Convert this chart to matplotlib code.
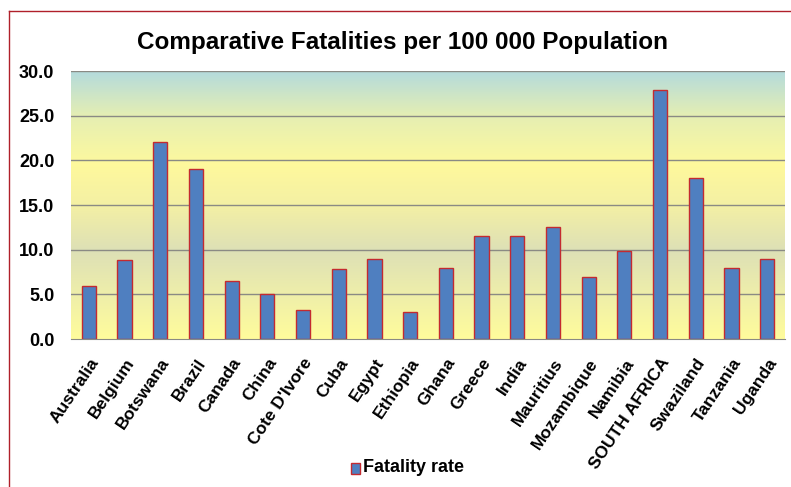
import matplotlib
matplotlib.use("Agg")
import matplotlib.pyplot as plt
import numpy as np
from matplotlib.colors import LinearSegmentedColormap
from matplotlib.lines import Line2D
from matplotlib.patches import Rectangle

countries = ["Australia", "Belgium", "Botswana", "Brazil", "Canada", "China",
             "Cote D'Ivore", "Cuba", "Egypt", "Ethiopia", "Ghana", "Greece",
             "India", "Mauritius", "Mozambique", "Namibia", "SOUTH AFRICA",
             "Swaziland", "Tanzania", "Uganda"]
fatality_rate = [5.9, 8.8, 22.0, 19.0, 6.5, 5.0, 3.2, 7.8, 8.9, 3.0, 8.0, 11.5,
                 11.5, 12.5, 6.9, 9.9, 27.9, 18.0, 7.9, 8.9]
yticks = [0, 5, 10, 15, 20, 25, 30]
title = "Comparative Fatalities per 100 000 Population"
legend_label = "Fatality rate"

FAM = ["Liberation Sans", "DejaVu Sans"]

fig = plt.figure(figsize=(7.91, 4.87), dpi=100)
ax = fig.add_axes([71/791, 1-339/487, 714/791, 268/487])

# gradient background
cmap = LinearSegmentedColormap.from_list("bg", [
    (0.0, "#fffc9c"),
    (0.17, "#eeeeaa"),
    (0.33, "#dde0b6"),
    (0.5, "#f4f0a4"),
    (0.66, "#fff99c"),
    (0.67, "#fbf8a0"),
    (0.83, "#e6efb2"),
    (1.0, "#b4dbdc"),
])
grad = np.linspace(0, 1, 256).reshape(-1, 1)
ax.imshow(grad, aspect="auto", cmap=cmap, origin="lower",
          extent=[-0.5, len(countries)-0.5, 0, 30], zorder=0)

x = np.arange(len(countries))
ax.bar(x, fatality_rate, width=0.4, color="#4f7fc0", edgecolor="#c42a30",
       linewidth=1.0, zorder=3)

for t in yticks[1:]:
    ax.axhline(t, color="#8a8a84", linewidth=1.0, zorder=1)

ax.set_xlim(-0.5, len(countries)-0.5)
ax.set_ylim(0, 30)
ax.set_yticks(yticks)
ax.set_yticklabels([f"{v:.1f}" for v in yticks], fontsize=13, fontweight="bold",
                   family=FAM)
ax.set_xticks(x)
ax.set_xticklabels(countries, rotation=56, ha="right", rotation_mode="anchor",
                   fontsize=12.5, fontweight="bold", family=FAM)
ax.tick_params(axis="both", length=0)
ax.tick_params(axis="y", pad=12)
ax.tick_params(axis="x", pad=12)
for s in ["left", "right", "top"]:
    ax.spines[s].set_visible(False)
ax.spines["bottom"].set_color("#8a8a84")
ax.spines["bottom"].set_zorder(4)

fig.text(0.509, 1-42/487, title, ha="center", va="center", fontsize=17.5,
         fontweight="bold", family=FAM)

# legend
fig.patches.append(Rectangle((351/791, 1-474/487), 9/791, 11/487,
                             facecolor="#4f7fc0", edgecolor="#c42a30",
                             linewidth=1.0, transform=fig.transFigure))
fig.text(363/791, 1-468/487, legend_label, ha="left", va="center", fontsize=13,
         fontweight="bold", family=FAM)

# border
fig.add_artist(Line2D([9/791, 1.0], [1-11/487, 1-11/487], color="#b0202a",
                      linewidth=1.0, transform=fig.transFigure))
fig.add_artist(Line2D([9/791, 9/791], [0, 1-11/487], color="#b0202a",
                      linewidth=1.0, transform=fig.transFigure))

fig.savefig("out.png", dpi=100)
